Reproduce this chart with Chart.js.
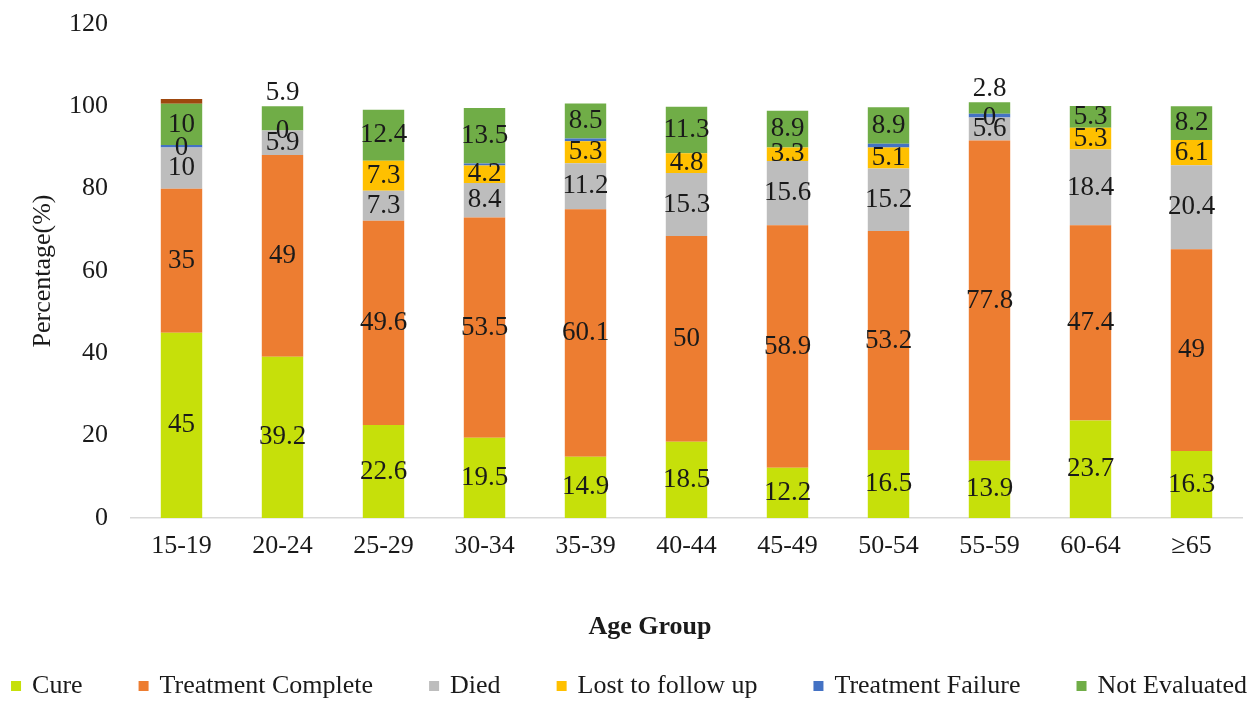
<!DOCTYPE html>
<html>
<head>
<meta charset="utf-8">
<script src="https://cdn.jsdelivr.net/npm/chart.js@4.4.1/dist/chart.umd.min.js"></script>
<style>
  html, body { margin: 0; padding: 0; background: #fff; }
  #wrap { width: 1258px; height: 702px; }
</style>
</head>
<body>
<div id="wrap"><canvas id="outcomeChart" width="1258" height="702"></canvas></div>
<script>
// treatment outcome by age group, percent of each group
const ageGroups = ['15-19', '20-24', '25-29', '30-34', '35-39', '40-44', '45-49', '50-54', '55-59', '60-64', '≥65'];
const cure = [45, 39.2, 22.6, 19.5, 14.9, 18.5, 12.2, 16.5, 13.9, 23.7, 16.3];
const treatmentComplete = [35, 49, 49.6, 53.5, 60.1, 50, 58.9, 53.2, 77.8, 47.4, 49];
const died = [10, 5.9, 7.3, 8.4, 11.2, 15.3, 15.6, 15.2, 5.6, 18.4, 20.4];
const lostToFollowUp = [0, 0, 7.3, 4.2, 5.3, 4.8, 3.3, 5.1, 0, 5.3, 6.1];
const treatmentFailure = [0.6, 0, 0, 0.5, 0.7, 0, 0, 0.9, 0.9, 0, 0];
const notEvaluated = [10, 5.9, 12.4, 13.5, 8.5, 11.3, 8.9, 8.9, 2.8, 5.3, 8.2];
const unlabelled = [1.2, 0, 0, 0, 0, 0, 0, 0, 0, 0, 0];
const yTicks = [0, 20, 40, 60, 80, 100, 120];

// groups whose "Not Evaluated" value sits above the bar
const labelAboveGroups = ['20-24', '55-59'];

const SERIF = '"Liberation Serif", "Times New Roman", serif';
const TEXT = '#1a1a1a';

Chart.defaults.font.family = SERIF;
Chart.defaults.font.size = 26;
Chart.defaults.color = TEXT;

const valueLabels = {
  id: 'valueLabels',
  afterDatasetsDraw(chart) {
    const ctx = chart.ctx;
    ctx.save();
    ctx.font = `27px ${SERIF}`;
    ctx.fillStyle = TEXT;
    ctx.textAlign = 'center';
    ctx.textBaseline = 'middle';
    chart.data.datasets.forEach((ds, i) => {
      if (!ds.showValues) return;
      const meta = chart.getDatasetMeta(i);
      meta.data.forEach((bar, j) => {
        let y = (bar.y + bar.base) / 2;
        if (ds.labelAbove && ds.labelAbove.includes(chart.data.labels[j])) y = bar.y - 13;
        ctx.fillText(String(ds.data[j]), bar.x, y);
      });
    });
    ctx.restore();
  }
};

// x-axis title plus a one-row legend along the bottom edge
const bottomLegend = {
  id: 'bottomLegend',
  afterDraw(chart) {
    const ctx = chart.ctx;
    const items = chart.data.datasets.filter(ds => ds.inLegend);
    const box = 10, gap = 11, spacing = 56;
    ctx.save();
    ctx.textBaseline = 'middle';

    ctx.font = `bold 26px ${SERIF}`;
    ctx.textAlign = 'center';
    ctx.fillStyle = TEXT;
    ctx.fillText('Age Group', 650, chart.height - 75);

    ctx.font = `26px ${SERIF}`;
    ctx.textAlign = 'left';
    const widths = items.map(ds => box + gap + ctx.measureText(ds.label).width);
    const total = widths.reduce((a, b) => a + b, 0) + spacing * (items.length - 1);
    let x = (chart.width - total) / 2;
    const y = chart.height - 16;
    items.forEach((ds, k) => {
      ctx.fillStyle = ds.backgroundColor;
      ctx.fillRect(x, y - box / 2, box, box);
      ctx.fillStyle = TEXT;
      ctx.fillText(ds.label, x + box + gap, y);
      x += widths[k] + spacing;
    });
    ctx.restore();
  }
};

const datasets = [
  { label: 'Cure', data: cure, backgroundColor: '#c6e00a', showValues: true, inLegend: true },
  { label: 'Treatment Complete', data: treatmentComplete, backgroundColor: '#ed7d31', showValues: true, inLegend: true },
  { label: 'Died', data: died, backgroundColor: '#bdbdbd', showValues: true, inLegend: true },
  { label: 'Lost to follow up', data: lostToFollowUp, backgroundColor: '#ffc000', showValues: true, inLegend: true },
  { label: 'Treatment Failure', data: treatmentFailure, backgroundColor: '#4472c4', showValues: false, inLegend: true },
  { label: 'Not Evaluated', data: notEvaluated, backgroundColor: '#70ad47', showValues: true, inLegend: true, labelAbove: labelAboveGroups },
  { label: 'Other', data: unlabelled, backgroundColor: '#9e480e', showValues: false, inLegend: false }
];

new Chart(document.getElementById('outcomeChart'), {
  type: 'bar',
  data: {
    labels: ageGroups,
    datasets: datasets.map(ds => ({ ...ds, borderWidth: 0, barPercentage: 0.41, categoryPercentage: 1 }))
  },
  options: {
    responsive: false,
    animation: false,
    layout: { padding: { top: 24, right: 16, bottom: 59, left: 28 } },
    plugins: {
      legend: { display: false },
      tooltip: { enabled: false }
    },
    scales: {
      x: {
        stacked: true,
        afterFit: axis => { axis.height = 125; axis.paddingLeft = 0; axis.paddingRight = 0; },
        grid: { display: false, drawTicks: false },
        border: { display: true, color: '#d9d9d9', width: 1.5 },
        ticks: { padding: 13, color: TEXT },
        title: { display: false }
      },
      y: {
        stacked: true,
        min: yTicks[0],
        max: yTicks[yTicks.length - 1],
        afterBuildTicks: axis => { axis.ticks = yTicks.map(v => ({ value: v })); },
        afterFit: axis => { axis.width = 103; axis.paddingTop = 0; axis.paddingBottom = 0; },
        grid: { display: false, drawTicks: false },
        border: { display: false },
        ticks: { padding: 23, color: TEXT },
        title: {
          display: true,
          text: 'Percentage(%)',
          color: TEXT,
          font: { size: 26 },
          padding: { top: 0, bottom: 10 }
        }
      }
    }
  },
  plugins: [valueLabels, bottomLegend]
});
</script>
</body>
</html>
